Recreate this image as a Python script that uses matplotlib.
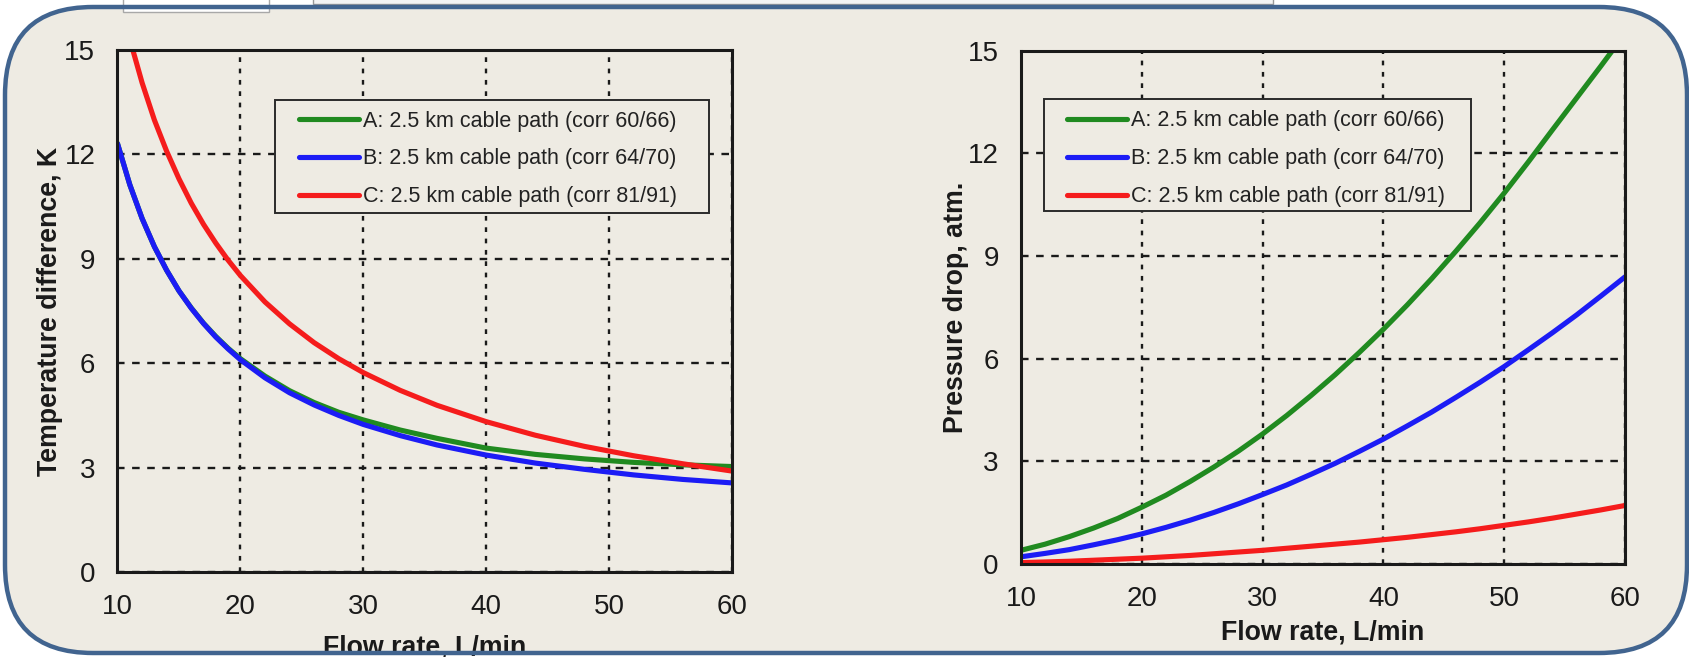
import matplotlib
matplotlib.use("Agg")
import matplotlib.pyplot as plt
from matplotlib.patches import FancyBboxPatch, Rectangle

plt.rcParams["font.family"] = ["Liberation Sans", "DejaVu Sans"]

# --- data ---
series_labels = [
    "A: 2.5 km cable path (corr 60/66)",
    "B: 2.5 km cable path (corr 64/70)",
    "C: 2.5 km cable path (corr 81/91)",
]

# temperature difference, K
flow_t = [10, 11, 12, 13, 14, 15, 16, 17, 18, 19, 20, 22, 24, 26, 28, 30,
          33, 36, 40, 44, 48, 52, 56, 60]
dT_A = [12.31, 11.13, 10.16, 9.35, 8.67, 8.08, 7.59, 7.15, 6.77, 6.43, 6.13,
        5.63, 5.21, 4.87, 4.59, 4.37, 4.08, 3.84, 3.56, 3.38, 3.25, 3.15, 3.08, 3.03]
dT_B = [12.31, 11.13, 10.16, 9.35, 8.67, 8.08, 7.58, 7.14, 6.75, 6.41, 6.10,
        5.58, 5.15, 4.80, 4.50, 4.24, 3.92, 3.65, 3.36, 3.13, 2.95, 2.79, 2.66, 2.56]
dT_C = [16.8, 15.31, 14.06, 12.99, 12.09, 11.30, 10.60, 9.99, 9.45, 8.96, 8.52,
        7.76, 7.13, 6.59, 6.13, 5.73, 5.22, 4.79, 4.32, 3.93, 3.61, 3.34, 3.11, 2.90]

# pressure drop, atm.
flow_p = [10, 12, 14, 16, 18, 20, 22, 24, 26, 28, 30, 32, 34, 36, 38, 40,
          42, 44, 46, 48, 50, 52, 54, 56, 58, 60]
dp_A = [0.40, 0.58, 0.80, 1.05, 1.33, 1.66, 2.01, 2.41, 2.84, 3.30, 3.80, 4.34,
        4.92, 5.53, 6.18, 6.86, 7.58, 8.34, 9.14, 9.97, 10.84, 11.75, 12.69,
        13.62, 14.55, 15.5]
dp_B = [0.21, 0.31, 0.42, 0.56, 0.71, 0.88, 1.07, 1.28, 1.51, 1.76, 2.03, 2.31,
        2.62, 2.94, 3.29, 3.65, 4.04, 4.44, 4.87, 5.31, 5.77, 6.26, 6.76, 7.28,
        7.83, 8.39]
dp_C = [0.04, 0.06, 0.08, 0.11, 0.14, 0.17, 0.21, 0.25, 0.30, 0.35, 0.40, 0.46,
        0.52, 0.58, 0.64, 0.71, 0.78, 0.86, 0.94, 1.03, 1.13, 1.23, 1.34, 1.46,
        1.58, 1.71]

x_ticks = [10, 20, 30, 40, 50, 60]
y_ticks = [0, 3, 6, 9, 12, 15]

COLORS = ["#208a20", "#1c1cf5", "#f51c1c"]
BG = "#eeebe3"
BORDER = "#41648f"
INK = "#1a1a1a"

W, H = 1690, 657
fig = plt.figure(figsize=(W / 100, H / 100), dpi=100, facecolor="white")

# slide background + rounded frame
ax_bg = fig.add_axes([0, 0, 1, 1])
ax_bg.set_zorder(-1)
ax_bg.set_xlim(0, W)
ax_bg.set_ylim(H, 0)
ax_bg.axis("off")
ax_bg.add_patch(FancyBboxPatch((5, 7), 1682, 646,
                               boxstyle="round,pad=0,rounding_size=88",
                               facecolor=BG, edgecolor="none"))
# bits of UI at the top edge
ax_bg.add_patch(Rectangle((123, -5), 146, 17, facecolor="white",
                          edgecolor="#a8a8a8", lw=1))
ax_bg.add_patch(Rectangle((313, -5), 960, 8.5, facecolor="#f4f4f4",
                          edgecolor="#9a9a9a", lw=1))


def style_axes(ax, ylabel, xlab_y, ylab_x):
    ax.set_facecolor("none")
    ax.set_xlim(10, 60)
    ax.set_ylim(0, 15)
    ax.set_xticks(x_ticks)
    ax.set_yticks(y_ticks)
    ax.tick_params(length=0, labelsize=20, labelcolor=INK)
    ax.tick_params(axis="y", pad=16)
    ax.tick_params(axis="x", pad=16)
    for s in ax.spines.values():
        s.set_linewidth(2.2)
        s.set_color(INK)
    ax.set_axisbelow(True)
    ax.grid(True, axis="x", color=INK, lw=1.7, linestyle=(0, (2.0, 2.8)))
    ax.grid(True, axis="y", color=INK, lw=1.7, linestyle=(0, (3.2, 3.2)))
    ax.set_xlabel("Flow rate, L/min", fontsize=19.3, fontweight="bold", color=INK)
    ax.set_ylabel(ylabel, fontsize=19.3, fontweight="bold", color=INK)
    ax.xaxis.set_label_coords(0.5, xlab_y)
    ax.yaxis.set_label_coords(ylab_x, 0.5)


def add_legend(ax, box, anchor):
    x0, y0, x1, y1 = box
    ax.add_patch(Rectangle((x0, y0), x1 - x0, y1 - y0, transform=ax.transAxes,
                           facecolor=BG, edgecolor="#2a2a2a", lw=1.4, zorder=3))
    leg = ax.legend(loc="upper left", bbox_to_anchor=anchor, frameon=False,
                    fontsize=15.5, borderpad=0, borderaxespad=0,
                    handlelength=2.79, handletextpad=0.17, labelspacing=0.78)
    leg.set_zorder(5)
    for t in leg.get_texts():
        t.set_color("#222222")


# left: temperature difference
ax1 = fig.add_axes([117.5 / W, (H - 572) / H, 614.5 / W, 522 / H])
for vals, c, lab in zip([dT_A, dT_B, dT_C], COLORS, series_labels):
    ax1.plot(flow_t, vals, color=c, lw=3.7, label=lab, solid_capstyle="round")
style_axes(ax1, "Temperature difference, K", -0.12, -0.089)
add_legend(ax1, (0.2555, 0.6877, 0.9626, 0.9042), (0.2954, 0.884))

# right: pressure drop
ax2 = fig.add_axes([1021 / W, (H - 564) / H, 604 / W, 513.3 / H])
for vals, c, lab in zip([dp_A, dp_B, dp_C], COLORS, series_labels):
    ax2.plot(flow_p, vals, color=c, lw=3.7, label=lab, solid_capstyle="round")
style_axes(ax2, "Pressure drop, atm.", -0.108, -0.086)
add_legend(ax2, (0.0373, 0.6877, 0.7445, 0.905), (0.0762, 0.8835))

# frame line drawn over everything
ax_top = fig.add_axes([0, 0, 1, 1])
ax_top.set_zorder(10)
ax_top.set_xlim(0, W)
ax_top.set_ylim(H, 0)
ax_top.axis("off")
ax_top.add_patch(FancyBboxPatch((5, 7), 1682, 646,
                                boxstyle="round,pad=0,rounding_size=88",
                                facecolor="none", edgecolor=BORDER, lw=3.2))

fig.savefig("out.png", dpi=100, facecolor="white")
